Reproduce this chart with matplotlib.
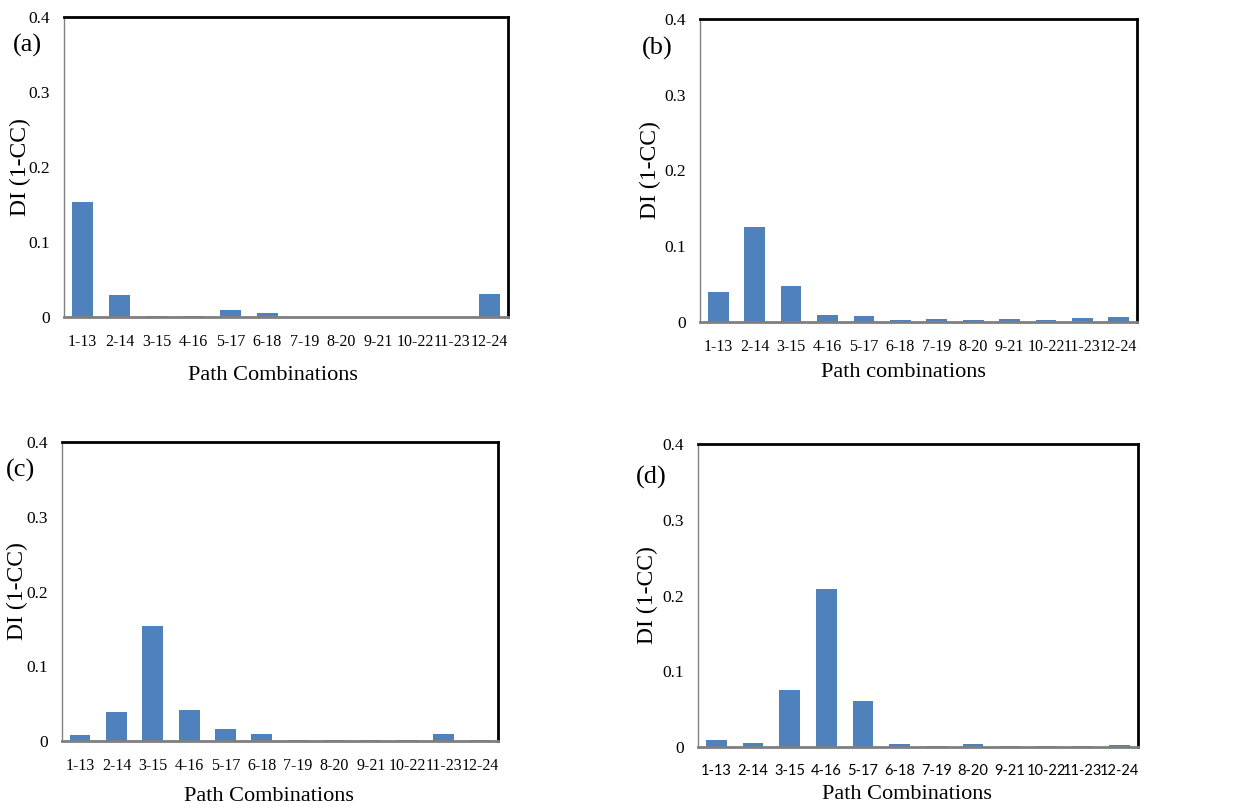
import matplotlib.pyplot as plt
import numpy as np

paths = ["1-13", "2-14", "3-15", "4-16", "5-17", "6-18",
         "7-19", "8-20", "9-21", "10-22", "11-23", "12-24"]

di_a = [0.154, 0.030, 0.002, 0.001, 0.009, 0.006, 0.0, 0.0, 0.0, 0.0, 0.0, 0.031]
di_b = [0.039, 0.125, 0.047, 0.0097, 0.0075, 0.0026, 0.0035, 0.0026, 0.0035, 0.003, 0.0053, 0.007]
di_c = [0.008, 0.039, 0.154, 0.041, 0.0156, 0.009, 0.002, 0.002, 0.001, 0.001, 0.0094, 0.001]
di_d = [0.0097, 0.0049, 0.075, 0.208, 0.061, 0.0044, 0.001, 0.0035, 0.001, 0.001, 0.001, 0.003]

# tag, values, x title, axes rect, tag position, ylabel x, xlabel (x, y) in axes coords
panels = [
    ("(a)", di_a, "Path Combinations", [0.0517, 0.608, 0.358, 0.371], (0.010, 0.944), -0.099, (0.472, -0.193)),
    ("(b)", di_b, "Path combinations", [0.565, 0.602, 0.3527, 0.3745], (0.518, 0.940), -0.114, (0.465, -0.168)),
    ("(c)", di_c, "Path Combinations", [0.050, 0.084, 0.352, 0.3696], (0.005, 0.418), -0.103, (0.475, -0.187)),
    ("(d)", di_d, "Path Combinations", [0.5634, 0.0766, 0.355, 0.3745], (0.513, 0.410), -0.114, (0.476, -0.158)),
]

BAR = "#4F81BD"
SERIF = "Liberation Serif"

fig = plt.figure(figsize=(12.39, 8.09), dpi=100)

for tag, vals, xlab, rect, tagpos, ylx, xlpos in panels:
    ax = fig.add_axes(rect)
    x = np.arange(len(paths))
    ax.bar(x, vals, width=0.57, color=BAR)
    ax.set_xlim(-0.5, len(paths) - 0.5)
    ax.set_ylim(0, 0.4)
    ax.set_yticks([0, 0.1, 0.2, 0.3, 0.4])
    ax.set_yticklabels(["0", "0.1", "0.2", "0.3", "0.4"], fontfamily=SERIF, fontsize=12.5)
    ax.set_xticks(x)
    if tag == "(d)":
        ax.set_xticklabels(paths, fontfamily="Lato", fontsize=10.5)
    else:
        ax.set_xticklabels(paths, fontfamily=SERIF, fontsize=11.5)
    ax.tick_params(axis="both", length=0)
    ax.tick_params(axis="y", pad=10)
    ax.tick_params(axis="x", pad=12)

    ax.spines["top"].set_color("black")
    ax.spines["top"].set_linewidth(2)
    ax.spines["right"].set_color("black")
    ax.spines["right"].set_linewidth(2)
    ax.spines["left"].set_color("#808080")
    ax.spines["left"].set_linewidth(1)
    ax.spines["bottom"].set_color("#7f7f7f")
    ax.spines["bottom"].set_linewidth(2)

    ax.text(xlpos[0], xlpos[1], xlab, transform=ax.transAxes, fontfamily=SERIF,
            fontsize=16, ha="center", va="center")
    ax.text(ylx, 0.5, "DI (1-CC)", transform=ax.transAxes, fontfamily=SERIF,
            fontsize=17, rotation=90, ha="center", va="center")
    fig.text(tagpos[0], tagpos[1], tag, fontfamily=SERIF, fontsize=19, ha="left", va="center")

fig.savefig("out.png", dpi=100)
